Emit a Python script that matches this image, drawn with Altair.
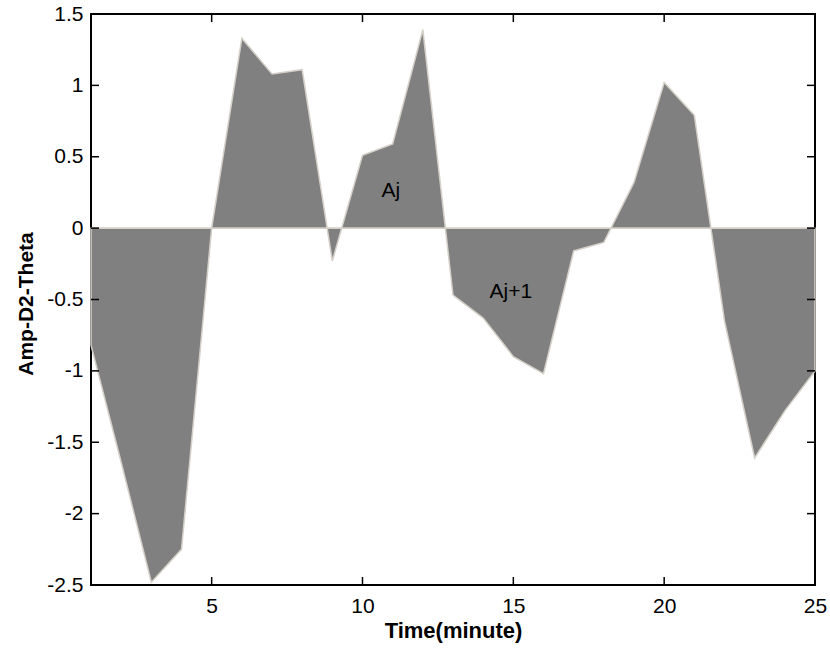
import altair as alt
import pandas as pd

# ---- data ----
time_min = list(range(1, 26))
amp = [-0.82, -1.64, -2.48, -2.25, 0.0, 1.33, 1.08, 1.11, -0.23, 0.51,
       0.59, 1.39, -0.47, -0.63, -0.90, -1.02, -0.16, -0.10, 0.32, 1.02,
       0.79, -0.65, -1.61, -1.28, -1.0]
x_ticks = [5, 10, 15, 20, 25]
y_ticks = [-2.5, -2, -1.5, -1, -0.5, 0, 0.5, 1, 1.5]
note_text = ["Aj", "Aj+1"]
note_x = [10.94, 14.92]
note_y = [0.22, -0.49]
baseline_value = [0]

W, H = 724, 571
FONT = "Liberation Sans"
EDGE = "#d4d0c8"

df = pd.DataFrame({"t": time_min, "a": amp})
notes = pd.DataFrame({"t": note_x, "a": note_y, "label": note_text})
xt = pd.DataFrame({"v": x_ticks})
yt = pd.DataFrame({"v": y_ticks})
base = pd.DataFrame({"z": baseline_value})

xscale = alt.Scale(domain=[1, 25], nice=False, zero=False)
yscale = alt.Scale(domain=[-2.5, 1.5], nice=False, zero=False)

xaxis = alt.Axis(values=x_ticks, title="Time(minute)", ticks=False, tickSize=0,
                 domain=False, grid=False, labelFont=FONT, labelFontSize=21,
                 labelColor="black", labelPadding=10, labelFlush=False,
                 labelOverlap=False, labelExpr="datum.value + ''",
                 titleFont=FONT, titleFontSize=22, titleFontWeight="bold",
                 titleColor="black", titleX=362, titleY=52,
                 titleBaseline="alphabetic", titleAlign="center")
yaxis = alt.Axis(values=y_ticks, title="Amp-D2-Theta", ticks=False, tickSize=0,
                 domain=False, grid=False, labelFont=FONT, labelFontSize=21,
                 labelColor="black", labelPadding=8, labelFlush=False,
                 labelOverlap=False, labelExpr="datum.value + ''",
                 titleFont=FONT, titleFontSize=21, titleFontWeight="bold",
                 titleColor="black", titleX=-59, titleY=289.5,
                 titleBaseline="alphabetic", titleAlign="center", titleAngle=270)

area = alt.Chart(df).mark_area(fill="#808080", fillOpacity=1, stroke=EDGE,
                               strokeWidth=1.5, interpolate="linear").encode(
    x=alt.X("t:Q", scale=xscale, axis=xaxis),
    y=alt.Y("a:Q", scale=yscale, axis=yaxis),
    y2=alt.datum(0),
)

zero_line = alt.Chart(base).mark_rule(color=EDGE, strokeWidth=1.5).encode(
    y=alt.Y("z:Q", scale=yscale, axis=yaxis),
)

text = alt.Chart(notes).mark_text(font=FONT, fontSize=21, align="center",
                                  baseline="alphabetic", color="black").encode(
    x=alt.X("t:Q", scale=xscale, axis=xaxis),
    y=alt.Y("a:Q", scale=yscale, axis=yaxis),
    text="label:N",
)

tick_style = dict(color="black", strokeWidth=1.5)
bottom_ticks = alt.Chart(xt).mark_rule(**tick_style).encode(
    x=alt.X("v:Q", scale=xscale, axis=xaxis), y=alt.value(H), y2=alt.value(H - 8))
top_ticks = alt.Chart(xt).mark_rule(**tick_style).encode(
    x=alt.X("v:Q", scale=xscale, axis=xaxis), y=alt.value(0), y2=alt.value(8))
left_ticks = alt.Chart(yt).mark_rule(**tick_style).encode(
    y=alt.Y("v:Q", scale=yscale, axis=yaxis), x=alt.value(0), x2=alt.value(8))
right_ticks = alt.Chart(yt).mark_rule(**tick_style).encode(
    y=alt.Y("v:Q", scale=yscale, axis=yaxis), x=alt.value(W), x2=alt.value(W - 8))

chart = alt.layer(area, zero_line, text, bottom_ticks, top_ticks, left_ticks,
                  right_ticks).properties(
    width=W, height=H,
    padding={"left": 91, "top": 14, "right": 15, "bottom": 63},
    autosize=alt.AutoSizeParams(type="none"),
    background="white",
).configure_view(stroke="black", strokeWidth=2)

chart.save("out.html", embed_options={"renderer": "svg", "actions": False})
